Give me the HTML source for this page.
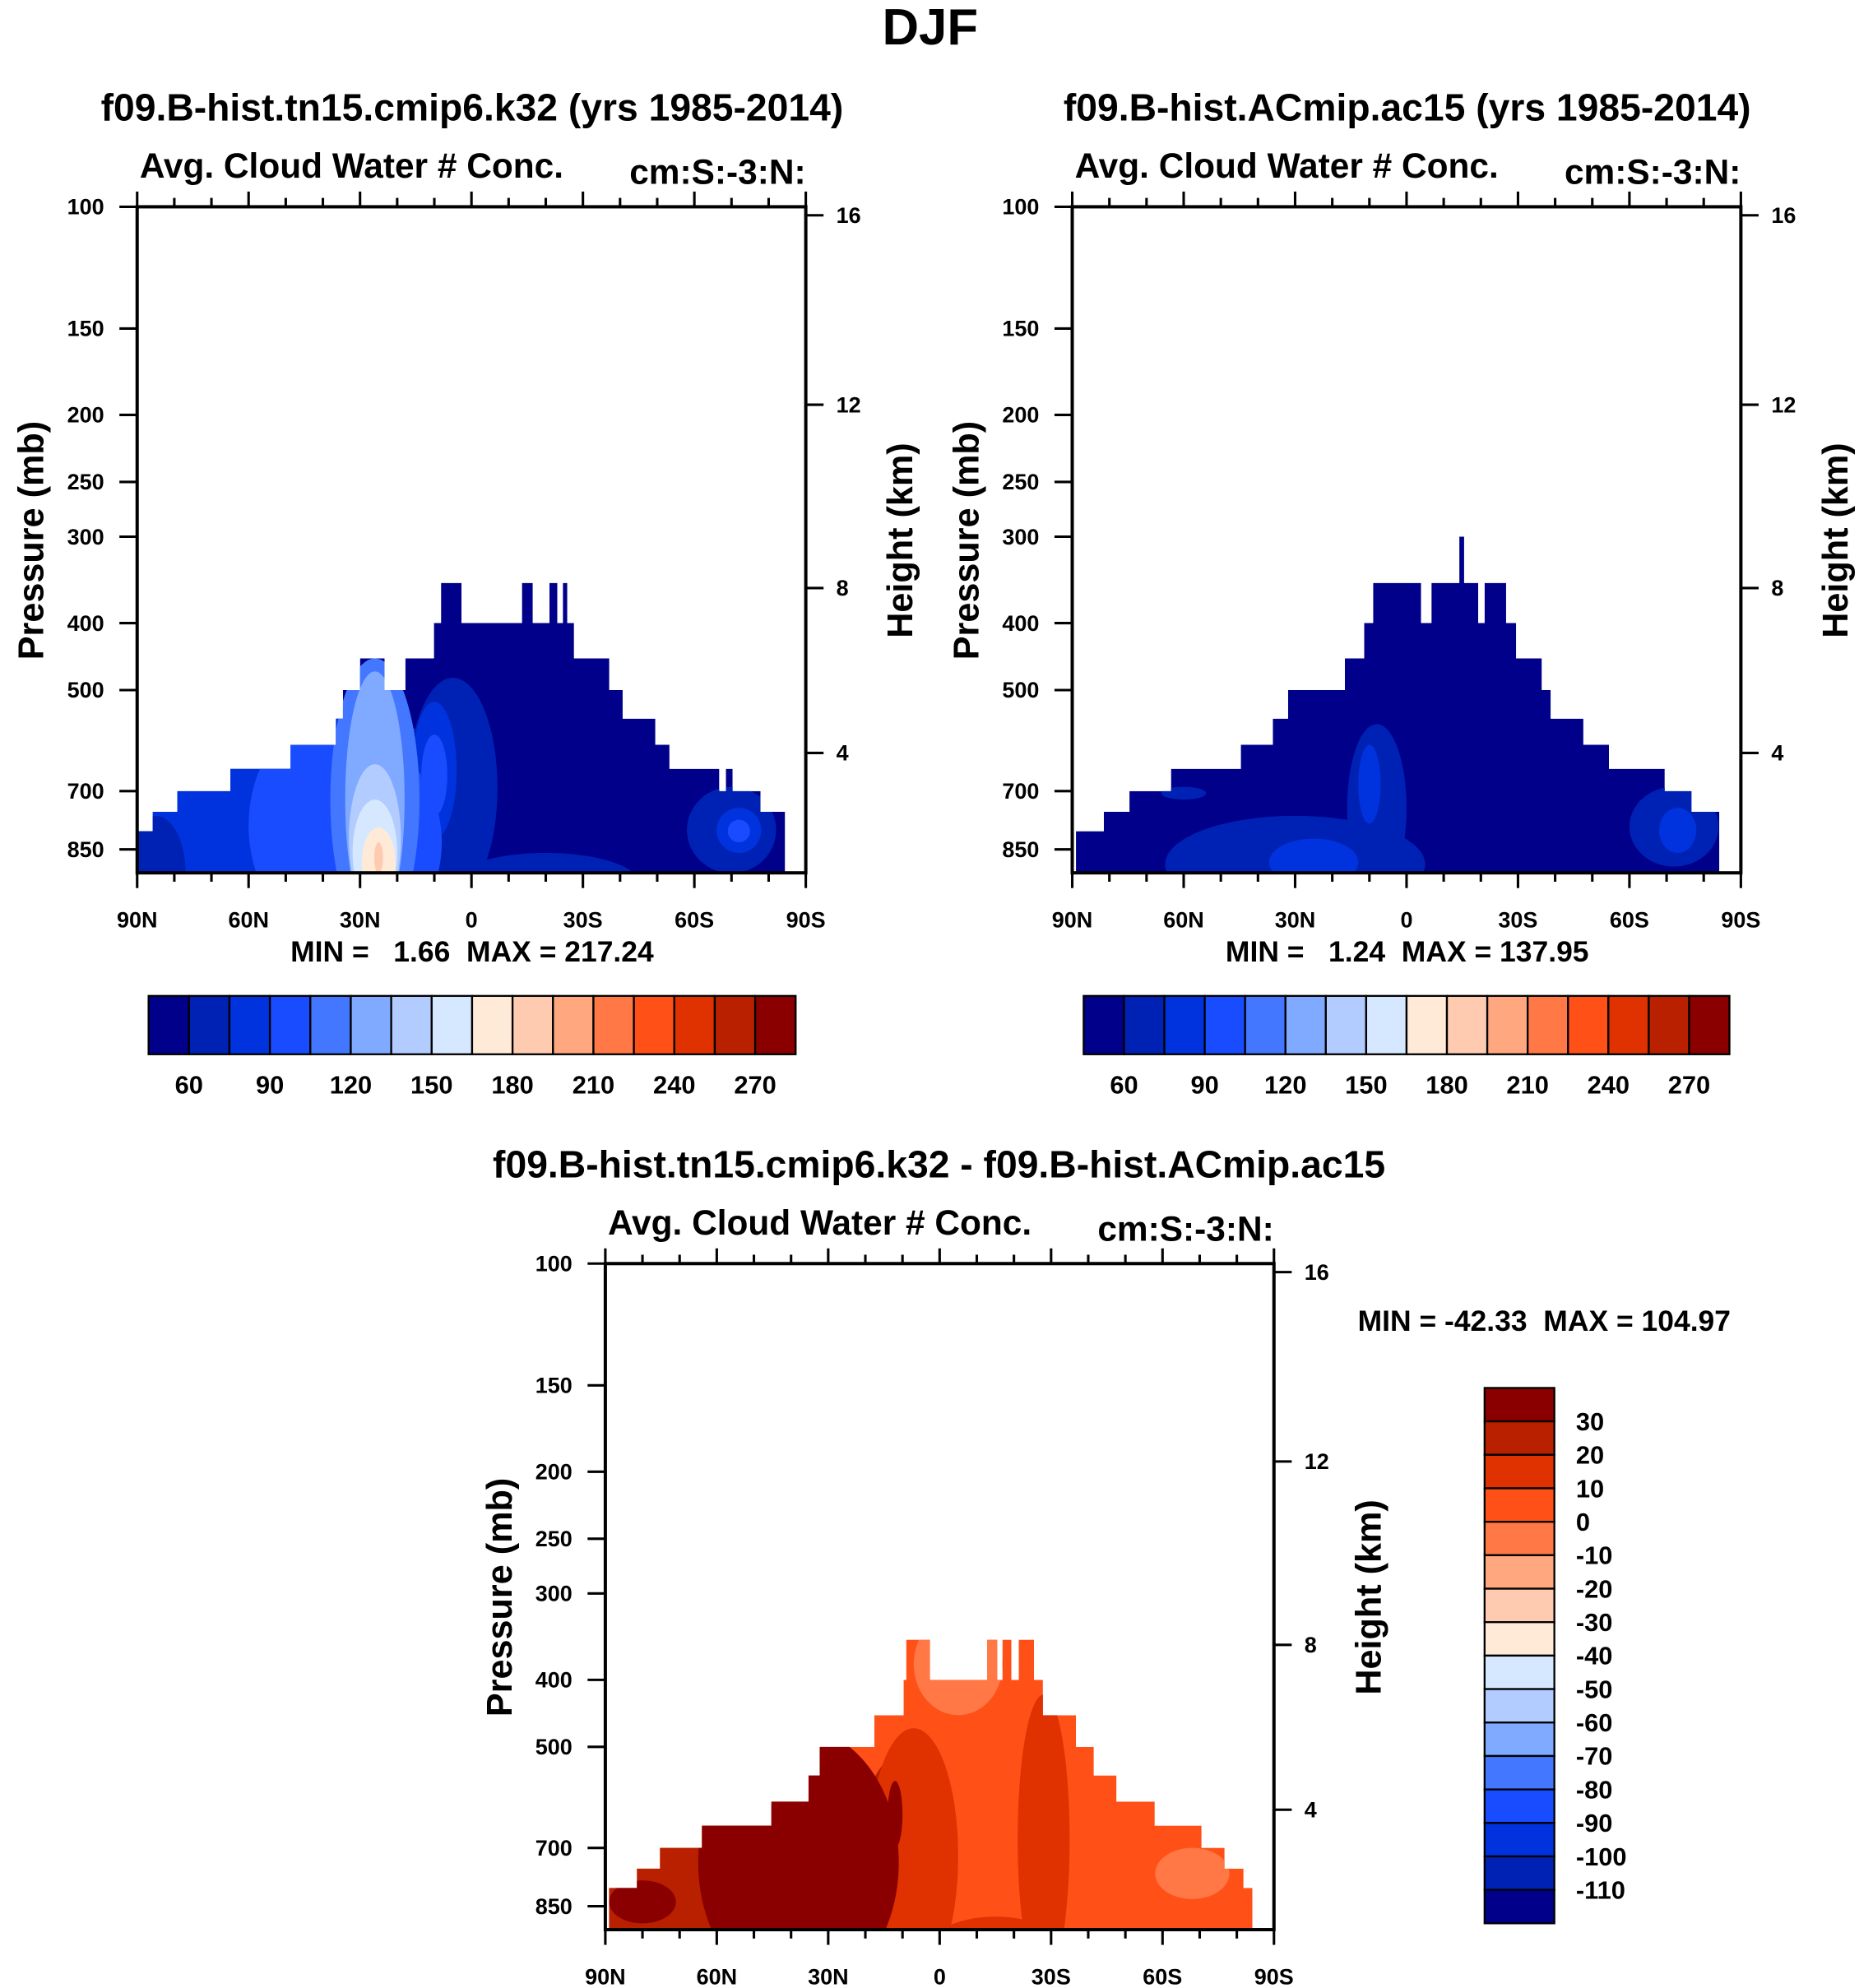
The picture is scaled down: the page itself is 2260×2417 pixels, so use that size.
<!DOCTYPE html>
<html><head><meta charset="utf-8"><style>
html,body{margin:0;padding:0;background:#fff;}
svg{display:block;}
text{font-family:"Liberation Sans",Arial,sans-serif;font-weight:bold;fill:#000;white-space:pre;}
</style></head><body>
<svg id="fig" width="2260" height="2417" viewBox="0 0 1465 1567" xmlns="http://www.w3.org/2000/svg">
<text x="733" y="35" font-size="40" text-anchor="middle">DJF</text>
</svg>
<script>
// ---------- data ----------
const colors = ["#00008a","#0022b4","#0033dd","#1a4cff","#4477ff","#80aaff","#b3ccff","#d6e8ff","#ffead8","#ffcbb0","#ffa880","#ff7845","#ff5018","#e03200","#b82000","#8a0000"];
const pressureTicks = [100,150,200,250,300,400,500,700,850];
const heightTicks = [16,12,8,4];
const latTicks = [90,60,30,0,-30,-60,-90];
const latTickLabels = ["90N","60N","30N","0","30S","60S","90S"];
const cbLabels1 = ["60","90","120","150","180","210","240","270"];
const cbLabels3 = ["30","20","10","0","-10","-20","-30","-40","-50","-60","-70","-80","-90","-100","-110"];

// panel 1 (tn15)
const profLat1 = [89.8,85.8,79.2,64.9,48.7,36.5,34.6,30,23.4,17.8,10.1,8.2,2.7,-13.6,-16.5,-21,-23.1,-24.6,-25.8,-27.6,-37.1,-40.7,-49.5,-53.3,-66.7,-68.5,-70.3,-77.8];
const profTop1 = [800,750,700,650,600,550,500,450,500,450,400,350,400,350,400,350,400,350,400,450,500,550,600,650,700,650,700,750];
const profEnd1 = -84.4;
const blobLat1 = [50,42,85,5,-20,10,10,28,26,26,26,26,25,25,-70,-72,-72];
const blobHw1  = [55,18,8,12,25,6,3.5,20,12,8,7,6,4.5,1.2,12,6,3];
const blobTop1 = [520,560,760,480,860,520,580,600,450,470,640,720,790,830,690,740,770];
const blobBot1 = [1150,1100,1100,1000,1050,820,760,1150,1150,1100,1050,1020,1000,920,920,860,830];
const blobLev1 = [2,3,1,1,1,2,3,3,4,5,6,7,8,9,1,2,3];

// panel 2 (ac15)
const profLat2 = [89,81.5,74.6,63.4,44.6,36,31.9,16.6,11.4,9,-3.9,-6.7,-14.2,-15.5,-19.3,-21,-26.8,-29.5,-36.4,-38.8,-47.6,-54.5,-69.5,-76.7];
const profTop2 = [800,750,700,650,600,550,500,450,400,350,400,350,300,350,400,350,400,450,500,550,600,650,700,750];
const profEnd2 = -84.2;
const blobLat2 = [30,8,10,25,-72,-73,60];
const blobHw2  = [35,8,3,12,12,5,6];
const blobTop2 = [760,560,600,820,690,740,690];
const blobBot2 = [1050,980,780,960,900,860,720];
const blobLev2 = [1,1,2,2,1,2,1];

// panel 3 (difference)
const profLat3 = [89,85.6,81.5,75.3,64,45.3,35.3,32.3,17.6,9.7,9,2.6,-12.8,-15.5,-16.9,-19.3,-21.3,-25.4,-27.8,-36.7,-41.5,-47.6,-57.9,-70.5,-76.7,-81.8];
const profTop3 = [800,800,750,700,650,600,550,500,450,400,350,400,350,400,350,400,350,400,450,500,550,600,650,700,750,800];
const profEnd3 = -84.2;
const blobLat3 = [55,12,7,-28,-15,-5,-68,38,80,12];
const blobHw3  = [40,10,12,7,20,12,10,27,9,2];
const blobTop3 = [600,520,470,420,880,320,700,470,780,560];
const blobBot3 = [1100,1100,1100,1100,1150,450,830,1150,900,700];
const blobLev3 = [14,14,13,13,13,11,11,15,15,15];

// ---------- drawing ----------
const NS = "http://www.w3.org/2000/svg";
const svg = document.getElementById("fig");
function mk(tag, attrs, parent){const e=document.createElementNS(NS,tag);for(const k in attrs)e.setAttribute(k,attrs[k]);(parent||svg).appendChild(e);return e;}
function txt(s, attrs, parent){const e=mk("text",attrs,parent);e.textContent=s;return e;}
const W=527,H=525,DEC=545;
function hToP(h){const m=h*1000; if(m<=11000) return 1013.25*Math.pow(1-2.25577e-5*m,5.25588); return 226.32*Math.exp(-(m-11000)/6341.6);}

function panel(id,x0,y0,lats,tops,endLat,bl,bw,bt,bb,blev,base,title,titleY,titleX){
  const g=mk("g",{});
  
  
  const X=lat=>x0+(90-lat)/180*W;
  const Y=p=>y0+Math.log10(p/100)*DEC;
  const yb=y0+H;
  let pts=[[X(lats[0]),yb]];
  for(let i=0;i<lats.length;i++){
    const l1=lats[i], l2=(i+1<lats.length)?lats[i+1]:endLat;
    pts.push([X(l1),Y(tops[i])]); pts.push([X(l2),Y(tops[i])]);
  }
  pts.push([X(endLat),yb]);
  const cid=id+"-clip";
  const cp=mk("clipPath",{id:cid},g);
  mk("polygon",{points:pts.map(p=>p.join(",")).join(" ")},cp);
  const fg=mk("g",{"clip-path":"url(#"+cid+")"},g);
  const bg=mk("polygon",{points:pts.map(p=>p.join(",")).join(" "),fill:colors[base]},fg);
  
  
  for(let i=0;i<bl.length;i++){
    const yt=Y(bt[i]),ybb=Y(bb[i]);
    const e=mk("ellipse",{cx:X(bl[i]),cy:(yt+ybb)/2,rx:Math.abs(X(bl[i]+bw[i])-X(bl[i])),ry:(ybb-yt)/2,fill:colors[blev[i]]},fg);
    
    
  }
  mk("rect",{x:x0,y:y0,width:W,height:H,fill:"none",stroke:"#000","stroke-width":2.6},g);
  pressureTicks.forEach(p=>{const y=Y(p);mk("line",{x1:x0-14,y1:y,x2:x0,y2:y,stroke:"#000","stroke-width":2},g);
    const t=txt(String(p),{x:x0-26,y:y+6,"font-size":17.5,"text-anchor":"end"},g);
    });
  heightTicks.forEach(h=>{const y=Y(hToP(h));mk("line",{x1:x0+W,y1:y,x2:x0+W+14,y2:y,stroke:"#000","stroke-width":2},g);
    const t=txt(String(h),{x:x0+W+24,y:y+6,"font-size":17.5},g);
    });
  for(let l=90;l>=-90;l-=10){const x=X(l);const major=(l%30===0);
    mk("line",{x1:x,y1:yb,x2:x,y2:yb+(major?12:7),stroke:"#000","stroke-width":2},g);
    mk("line",{x1:x,y1:y0,x2:x,y2:y0-(major?12:7),stroke:"#000","stroke-width":2},g);}
  latTicks.forEach((l,i)=>{const t=txt(latTickLabels[i],{x:X(l),y:yb+43,"font-size":17.5,"text-anchor":"middle"},g);
    });
  const a=txt("Pressure (mb)",{x:0,y:0,"font-size":28,"text-anchor":"middle",transform:`translate(${x0-74},${y0+263}) rotate(-90)`},g);
  
  const b=txt("Height (km)",{x:0,y:0,"font-size":28,"text-anchor":"middle",transform:`translate(${x0+W+84},${y0+263}) rotate(-90)`},g);
  
  const c=txt("Avg. Cloud Water # Conc.",{x:x0+2,y:y0-23,"font-size":27.5},g);
  
  const d=txt("cm:S:-3:N:",{x:x0+W,y:y0-18,"font-size":27.5,"text-anchor":"end"},g);
  
  const t=txt(title,{x:titleX,y:titleY,"font-size":30,"text-anchor":"middle"},g);
  
  return g;
}

panel("panel-tn15",108,163,profLat1,profTop1,profEnd1,blobLat1,blobHw1,blobTop1,blobBot1,blobLev1,0,"f09.B-hist.tn15.cmip6.k32 (yrs 1985-2014)",95,372);
panel("panel-ac15",845,163,profLat2,profTop2,profEnd2,blobLat2,blobHw2,blobTop2,blobBot2,blobLev2,0,"f09.B-hist.ACmip.ac15 (yrs 1985-2014)",95,1109);
panel("panel-diff",477,996,profLat3,profTop3,profEnd3,blobLat3,blobHw3,blobTop3,blobBot3,blobLev3,12,"f09.B-hist.tn15.cmip6.k32 - f09.B-hist.ACmip.ac15",928,740);

function hbar(id,x0,y0,w,h){
  const g=mk("g",{});
  const bw=w/colors.length;
  colors.forEach((c,i)=>{const r=mk("rect",{x:x0+i*bw,y:y0,width:bw,height:h,fill:c,stroke:"#000","stroke-width":1.5},g);
    });
  cbLabels1.forEach((s,i)=>{const t=txt(s,{x:x0+(1+2*i)*bw,y:y0+h+31,"font-size":20,"text-anchor":"middle"},g);
    });
}
hbar("colorbar-tn15",117,785,510,46);
hbar("colorbar-ac15",854,785,509,46);
let m1=txt("MIN =   1.66  MAX = 217.24",{x:372,y:758,"font-size":23,"text-anchor":"middle"});

let m2=txt("MIN =   1.24  MAX = 137.95",{x:1109,y:758,"font-size":23,"text-anchor":"middle"});

let m3=txt("MIN = -42.33  MAX = 104.97",{x:1070,y:1049,"font-size":23});


(function(){
  const g=mk("g",{});
  const x0=1170,y0=1094,w=55,h=422,bh=h/colors.length;
  for(let i=0;i<colors.length;i++){const r=mk("rect",{x:x0,y:y0+i*bh,width:w,height:bh,fill:colors[colors.length-1-i],stroke:"#000","stroke-width":1.5},g);
    }
  cbLabels3.forEach((s,i)=>{const t=txt(s,{x:x0+w+17,y:y0+(i+1)*bh+7,"font-size":20},g);
    });
})();
</script>
</body></html>
